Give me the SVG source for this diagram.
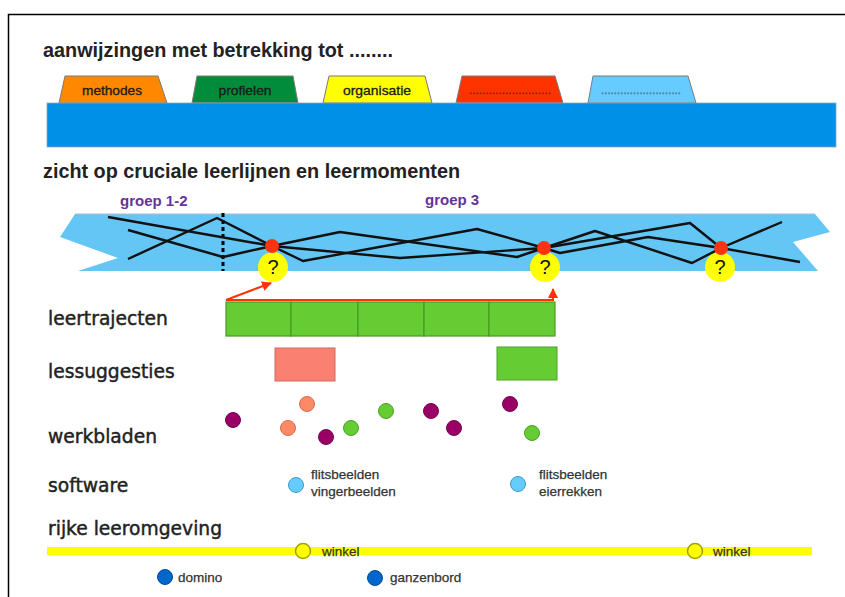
<svg xmlns="http://www.w3.org/2000/svg" width="845" height="597" viewBox="0 0 845 597">
<defs>
<style>
.h{font-family:"Liberation Sans",Arial,sans-serif;font-weight:bold;font-size:20px;fill:#222}
.lbl{font-family:"DejaVu Sans",sans-serif;font-size:18.7px;fill:#222;stroke:#222;stroke-width:0.45}
.tab{stroke:#7a7a7a;stroke-width:1}
.tabt{font-family:"Liberation Sans",Arial,sans-serif;font-size:13px;fill:#1a1a1a;stroke:#1a1a1a;stroke-width:0.3;text-anchor:middle}
.grp{font-family:"Liberation Sans",Arial,sans-serif;font-weight:bold;font-size:15px;fill:#663399}
.ll{fill:none;stroke:#111;stroke-width:2.4;stroke-linejoin:round}
.rd{fill:#ff3311}
.q{fill:#ffff00}
.qt{font-family:"Liberation Sans",Arial,sans-serif;font-size:20px;fill:#111;text-anchor:middle}
.cell{fill:#66cc33;stroke:#4a9a22;stroke-width:1.2}
.pu{fill:#990066;stroke:#7a0052;stroke-width:1}
.sa{fill:#ff8866;stroke:#d96a4c;stroke-width:1}
.gr{fill:#66cc33;stroke:#4f9f26;stroke-width:1}
.sw{fill:#66ccff;stroke:#3a9ccc;stroke-width:1}
.sm{font-family:"Liberation Sans",Arial,sans-serif;font-size:13.5px;fill:#333;stroke:#333;stroke-width:0.25}
.yl{fill:#ffff00;stroke:#a0a000;stroke-width:1.5}
.bl{fill:#0066cc;stroke:#004c99;stroke-width:1}
.arr{fill:none;stroke:#ff3300;stroke-width:2}
</style>
<marker id="ah" viewBox="0 0 10 10" refX="9" refY="5" markerWidth="5" markerHeight="5" orient="auto" markerUnits="strokeWidth"><path d="M0,0 L10,5 L0,10 z" fill="#ff3300"/></marker>
</defs>
<rect x="0" y="0" width="845" height="597" fill="#ffffff"/>
<path d="M8.5,597 V14.5 H845" fill="none" stroke="#000" stroke-width="1.5"/>

<g id="title1">
<text class="h" x="43" y="57" textLength="350" lengthAdjust="spacingAndGlyphs">aanwijzingen met betrekking tot ........</text>
</g>

<g id="tab-methodes">
<polygon class="tab" points="59,103 65,76 158,76 167,103" fill="#ff8800"/>
<text class="tabt" x="112" y="95" textLength="60" lengthAdjust="spacingAndGlyphs">methodes</text>
</g>
<g id="tab-profielen">
<polygon class="tab" points="192,103 197,76 293,76 298,103" fill="#008c3a"/>
<text class="tabt" x="245" y="95" textLength="53" lengthAdjust="spacingAndGlyphs">profielen</text>
</g>
<g id="tab-organisatie">
<polygon class="tab" points="323,103 329,76 425,76 432,103" fill="#ffff00"/>
<text class="tabt" x="377" y="95" textLength="68" lengthAdjust="spacingAndGlyphs">organisatie</text>
</g>
<g id="tab-red">
<polygon class="tab" points="456,103 462,76 555,76 563,103" fill="#ff3300"/>
<text class="tabt" x="510" y="94" style="fill:#8b1a00;stroke:#8b1a00" textLength="82" lengthAdjust="spacingAndGlyphs">.........................</text>
</g>
<g id="tab-lightblue">
<polygon class="tab" points="588,103 593,76 688,76 696,103" fill="#66ccff"/>
<text class="tabt" x="641" y="94" style="fill:#4f6f8f;stroke:#4f6f8f" textLength="80" lengthAdjust="spacingAndGlyphs">.........................</text>
</g>
<g id="bar">
<rect x="47" y="103" width="789" height="44" fill="#0090e8" stroke="#8aa6bf" stroke-width="0.8"/>
</g>

<g id="title2">
<text class="h" x="43" y="178" textLength="417" lengthAdjust="spacingAndGlyphs">zicht op cruciale leerlijnen en leermomenten</text>
</g>

<g id="band">
<polygon points="75,214 815,214 830,232 793,242 818,271 78,271 118,258 60,237" fill="#63c6f5"/>
<line x1="75" y1="214" x2="815" y2="214" stroke="#a9bccb" stroke-width="1"/>
<text class="grp" x="120" y="206">groep 1-2</text>
<text class="grp" x="425" y="205">groep 3</text>
<line x1="223" y1="213" x2="223" y2="271" stroke="#000" stroke-width="3" stroke-dasharray="4,3"/>
<polyline class="ll" points="108,217 272,246 340,232 517,257 544,248 595,231 692,263 721,248 782,222"/>
<polyline class="ll" points="128,230 223,257 272,246 303,261 477,229 544,248 560,253 648,237 721,248 800,262"/>
<polyline class="ll" points="128,259 217,218 272,246 400,258 544,248 690,223 721,248"/>
</g>

<g id="moment1">
<circle class="q" cx="273" cy="267" r="15"/>
<circle class="rd" cx="272" cy="246" r="7"/>
<text class="qt" x="273" y="274">?</text>
</g>
<g id="moment2">
<circle class="q" cx="545" cy="267" r="15"/>
<circle class="rd" cx="544" cy="248" r="7"/>
<text class="qt" x="545" y="274">?</text>
</g>
<g id="moment3">
<circle class="q" cx="720" cy="267" r="15"/>
<circle class="rd" cx="721" cy="248" r="7"/>
<text class="qt" x="720" y="274">?</text>
</g>

<g id="leertrajecten">
<text class="lbl" x="48" y="325">leertrajecten</text>
<rect class="cell" x="226" y="302" width="65" height="34"/>
<rect class="cell" x="291" y="302" width="67" height="34"/>
<rect class="cell" x="358" y="302" width="66" height="34"/>
<rect class="cell" x="424" y="302" width="65" height="34"/>
<rect class="cell" x="489" y="302" width="66" height="34"/>
</g>

<g id="connectors">
<line class="arr" x1="226" y1="300" x2="271" y2="283" marker-end="url(#ah)"/>
<path class="arr" d="M226,300 H553 V289" marker-end="url(#ah)"/>
</g>

<g id="lessuggesties">
<text class="lbl" x="48" y="378">lessuggesties</text>
<rect x="275" y="348" width="60" height="33" fill="#fa8072" stroke="#d0685c" stroke-width="1"/>
<rect x="497" y="347" width="60" height="33" fill="#66cc33" stroke="#4f9f26" stroke-width="1"/>
</g>

<g id="werkbladen">
<text class="lbl" x="48" y="443">werkbladen</text>
<circle class="pu" cx="233" cy="420" r="7.5"/>
<circle class="sa" cx="307" cy="404" r="7.5"/>
<circle class="sa" cx="288" cy="428" r="7.5"/>
<circle class="pu" cx="326" cy="437" r="7.5"/>
<circle class="gr" cx="351" cy="428" r="7.5"/>
<circle class="gr" cx="386" cy="411" r="7.5"/>
<circle class="pu" cx="431" cy="411" r="7.5"/>
<circle class="pu" cx="454" cy="428" r="7.5"/>
<circle class="pu" cx="510" cy="404" r="7.5"/>
<circle class="gr" cx="532" cy="433" r="7.5"/>
</g>

<g id="software">
<text class="lbl" x="48" y="492">software</text>
<circle class="sw" cx="296" cy="485" r="7.5"/>
<text class="sm" x="311" y="479">flitsbeelden</text>
<text class="sm" x="311" y="496">vingerbeelden</text>
<circle class="sw" cx="518" cy="484" r="7.5"/>
<text class="sm" x="539" y="479">flitsbeelden</text>
<text class="sm" x="539" y="496">eierrekken</text>
</g>

<g id="rijke-leeromgeving">
<text class="lbl" x="48" y="535">rijke leeromgeving</text>
<rect x="47" y="547" width="765" height="8" fill="#ffff00"/>
<circle class="yl" cx="303" cy="551" r="7.5"/>
<text class="sm" x="322" y="556">winkel</text>
<circle class="yl" cx="695" cy="551" r="7.5"/>
<text class="sm" x="713" y="556">winkel</text>
<circle class="bl" cx="165" cy="577" r="7.5"/>
<text class="sm" x="178" y="582">domino</text>
<circle class="bl" cx="375" cy="578" r="7.5"/>
<text class="sm" x="390" y="582">ganzenbord</text>
</g>
</svg>
